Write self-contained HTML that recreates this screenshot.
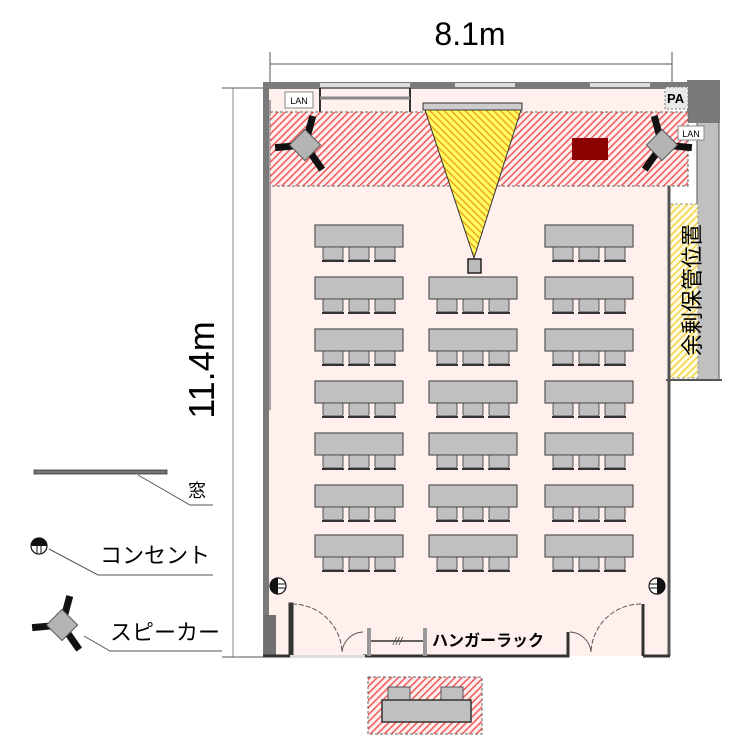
<!DOCTYPE html>
<html><head><meta charset="utf-8"><style>
html,body{margin:0;padding:0;background:#fff}
svg{display:block}
text{font-family:"Liberation Sans","Noto Sans CJK JP",sans-serif}
</style></head><body>
<svg width="750" height="750" viewBox="0 0 750 750" xmlns="http://www.w3.org/2000/svg">
<defs>
<pattern id="rh" width="5" height="5" patternUnits="userSpaceOnUse" patternTransform="rotate(45)">
<rect width="5" height="5" fill="#fff0f0"/><rect width="1.6" height="5" fill="#f06060"/></pattern>
<pattern id="yh" width="5" height="5" patternUnits="userSpaceOnUse" patternTransform="rotate(45)">
<rect width="5" height="5" fill="#fffbe0"/><rect width="1.4" height="5" fill="#f0d040"/></pattern>
<pattern id="xh" width="5" height="5" patternUnits="userSpaceOnUse" patternTransform="rotate(-45)">
<rect width="5" height="5" fill="#ffff60"/><rect width="1.4" height="5" fill="#f0a020"/></pattern>
<g id="tbl">
<rect x="0" y="0" width="88" height="22" fill="#c0c0c0" stroke="#555" stroke-width="1.2"/>
<g fill="#c0c0c0" stroke="#555">
<rect x="8" y="22" width="20" height="13" rx="2"/><rect x="34" y="22" width="20" height="13" rx="2"/><rect x="60" y="22" width="20" height="13" rx="2"/></g>
<line x1="7" y1="36" x2="29" y2="36" stroke="#333" stroke-width="2"/><line x1="33" y1="36" x2="55" y2="36" stroke="#333" stroke-width="2"/><line x1="59" y1="36" x2="81" y2="36" stroke="#333" stroke-width="2"/>
</g>
<g id="spk">
<rect x="-3.5" y="-30" width="7" height="22" fill="#111" transform="rotate(10)"/>
<rect x="-3.5" y="-30" width="7" height="22" fill="#111" transform="rotate(-100)"/>
<rect x="-3.5" y="-30" width="7" height="22" fill="#111" transform="rotate(140)"/>
<rect x="-11" y="-11" width="22" height="22" fill="#b4b4b4" stroke="#555" transform="rotate(40)"/>
</g>
<g id="out">
<circle r="8" fill="#fff" stroke="#111" stroke-width="1.2"/>
<path d="M-8,0 A8,8 0 0 1 8,0 Z" fill="#111"/>
<line x1="-2" y1="-2" x2="-2" y2="7" stroke="#111"/><line x1="2" y1="-2" x2="2" y2="7" stroke="#111"/>
</g>
</defs>

<!-- dimensions -->
<text x="470" y="45" font-size="32" text-anchor="middle">8.1m</text>
<line x1="270" y1="64" x2="672" y2="64" stroke="#555"/>
<line x1="270" y1="52" x2="270" y2="100" stroke="#555"/>
<line x1="672" y1="52" x2="672" y2="100" stroke="#555"/>
<line x1="233" y1="88" x2="233" y2="657" stroke="#888"/>
<line x1="222" y1="88" x2="265" y2="88" stroke="#555"/>
<line x1="222" y1="657" x2="265" y2="657" stroke="#555"/>
<text transform="translate(214,370) rotate(-90)" font-size="36" text-anchor="middle">11.4m</text>

<!-- room floor -->
<rect x="268" y="88" width="402" height="568" fill="#fff0ee"/>
<!-- right storage column -->
<rect x="697" y="122" width="22" height="258" fill="#c0c0c0" stroke="#555"/>
<rect x="670" y="204" width="28" height="174" fill="url(#yh)" stroke="#999" stroke-dasharray="3,2"/>
<line x1="666" y1="380" x2="722" y2="380" stroke="#555" stroke-width="2"/>
<text transform="translate(694,290) rotate(-90)" font-size="22" text-anchor="middle" dominant-baseline="middle">余剰保管位置</text>

<!-- walls -->
<rect x="263" y="82" width="455" height="7" fill="#7a7a7a"/>
<rect x="320" y="83" width="90" height="4" fill="#ddd"/>
<rect x="455" y="83" width="60" height="4" fill="#ddd"/>
<rect x="590" y="83" width="60" height="4" fill="#ddd"/>
<rect x="687" y="80" width="33" height="43" fill="#7a7a7a"/>
<rect x="263" y="82" width="6" height="575" fill="#7a7a7a"/>
<line x1="270" y1="100" x2="270" y2="410" stroke="#555"/>
<line x1="669" y1="124" x2="669" y2="656" stroke="#555" stroke-width="3"/>
<line x1="320" y1="88" x2="320" y2="114" stroke="#333" stroke-width="2"/>
<line x1="410" y1="88" x2="410" y2="114" stroke="#333" stroke-width="2"/>
<line x1="320" y1="98" x2="410" y2="98" stroke="#888" stroke-width="3"/>
<rect x="264" y="615" width="12" height="42" fill="#707070"/>
<!-- bottom wall -->
<path d="M263,656 H290 V604 H292 V656" stroke="#333" stroke-width="3" fill="none"/>
<path d="M363,656 H568 V632" stroke="#333" stroke-width="3" fill="none"/>
<path d="M643,656 H670" stroke="#333" stroke-width="3" fill="none"/>
<line x1="643" y1="604" x2="643" y2="656" stroke="#333" stroke-width="3"/>
<rect x="290" y="655" width="75" height="3" fill="#ddd"/>
<!-- doors -->
<path d="M292,604 A50,50 0 0 1 342,652" stroke="#555" fill="none" stroke-dasharray="5,2"/>
<path d="M363,632 A22,22 0 0 0 342,652" stroke="#555" fill="none"/>
<path d="M641,604 A50,50 0 0 0 591,652" stroke="#555" fill="none" stroke-dasharray="5,2"/>
<path d="M570,632 A22,22 0 0 1 591,652" stroke="#555" fill="none"/>
<!-- hanger rack -->
<rect x="367" y="628" width="4" height="28" fill="#999"/>
<rect x="423" y="628" width="4" height="28" fill="#999"/>
<line x1="371" y1="641" x2="423" y2="641" stroke="#333" stroke-width="1.5"/>
<text x="393" y="645" font-size="11" font-style="italic" fill="#444">///</text>
<text x="432" y="646" font-size="16" font-weight="bold">ハンガーラック</text>

<!-- red hatched band -->
<rect x="270" y="112" width="418" height="74" fill="url(#rh)" stroke="#666" stroke-dasharray="3,2"/>
<!-- projection -->
<rect x="423" y="103" width="99" height="7" fill="#ccc" stroke="#333"/>
<polygon points="425,110 521,110 474,258" fill="url(#xh)" stroke="#333"/>
<rect x="468" y="259" width="13" height="14" fill="#bbb" stroke="#222" stroke-width="1.5"/>
<rect x="572" y="138" width="36" height="22" fill="#8b0000"/>
<!-- LAN / PA -->
<rect x="285" y="92" width="28" height="16" fill="#fff" stroke="#888"/>
<text x="299" y="104" font-size="9" text-anchor="middle">LAN</text>
<rect x="678" y="126" width="26" height="14" fill="#fff" stroke="#888"/>
<text x="691" y="137" font-size="9" text-anchor="middle">LAN</text>
<rect x="665" y="87" width="23" height="22" fill="#e8e8e8" stroke="#777" stroke-dasharray="2,2"/>
<text x="667" y="103" font-size="13" font-weight="bold">PA</text>
<!-- speakers -->
<use href="#spk" transform="translate(305,145) rotate(5)"/>
<use href="#spk" transform="translate(662,145) scale(-1,1) rotate(5)"/>

<!-- tables -->
<use href="#tbl" x="315" y="225"/><use href="#tbl" x="545" y="225"/>
<use href="#tbl" x="315" y="277"/><use href="#tbl" x="429" y="277"/><use href="#tbl" x="545" y="277"/>
<use href="#tbl" x="315" y="329"/><use href="#tbl" x="429" y="329"/><use href="#tbl" x="545" y="329"/>
<use href="#tbl" x="315" y="381"/><use href="#tbl" x="429" y="381"/><use href="#tbl" x="545" y="381"/>
<use href="#tbl" x="315" y="433"/><use href="#tbl" x="429" y="433"/><use href="#tbl" x="545" y="433"/>
<use href="#tbl" x="315" y="485"/><use href="#tbl" x="429" y="485"/><use href="#tbl" x="545" y="485"/>
<use href="#tbl" x="315" y="535"/><use href="#tbl" x="429" y="535"/><use href="#tbl" x="545" y="535"/>

<!-- outlets -->
<use href="#out" transform="translate(278,586) rotate(-90)"/>
<use href="#out" transform="translate(657,586) rotate(90)"/>

<!-- legend -->
<rect x="34" y="470" width="133" height="4" fill="#777" stroke="#333" stroke-width="0.8"/>
<polyline points="138,475 190,505 213,505" fill="none" stroke="#555"/>
<text x="188" y="497" font-size="18">窓</text>
<use href="#out" transform="translate(39,546)"/>
<polyline points="49,549 98,575 213,575" fill="none" stroke="#555"/>
<text x="100" y="563" font-size="22">コンセント</text>
<use href="#spk" transform="translate(62,625) rotate(5)"/>
<polyline points="84,636 110,651 222,651" fill="none" stroke="#555"/>
<text x="110" y="640" font-size="22">スピーカー</text>

<!-- bottom box -->
<rect x="368" y="677" width="114" height="57" fill="url(#rh)" stroke="#666" stroke-dasharray="3,2"/>
<rect x="388" y="687" width="22" height="14" fill="#c0c0c0" stroke="#555"/>
<rect x="441" y="687" width="22" height="14" fill="#c0c0c0" stroke="#555"/>
<rect x="382" y="700" width="89" height="22" fill="#c0c0c0" stroke="#333" stroke-width="1.5"/>
</svg>
</body></html>
